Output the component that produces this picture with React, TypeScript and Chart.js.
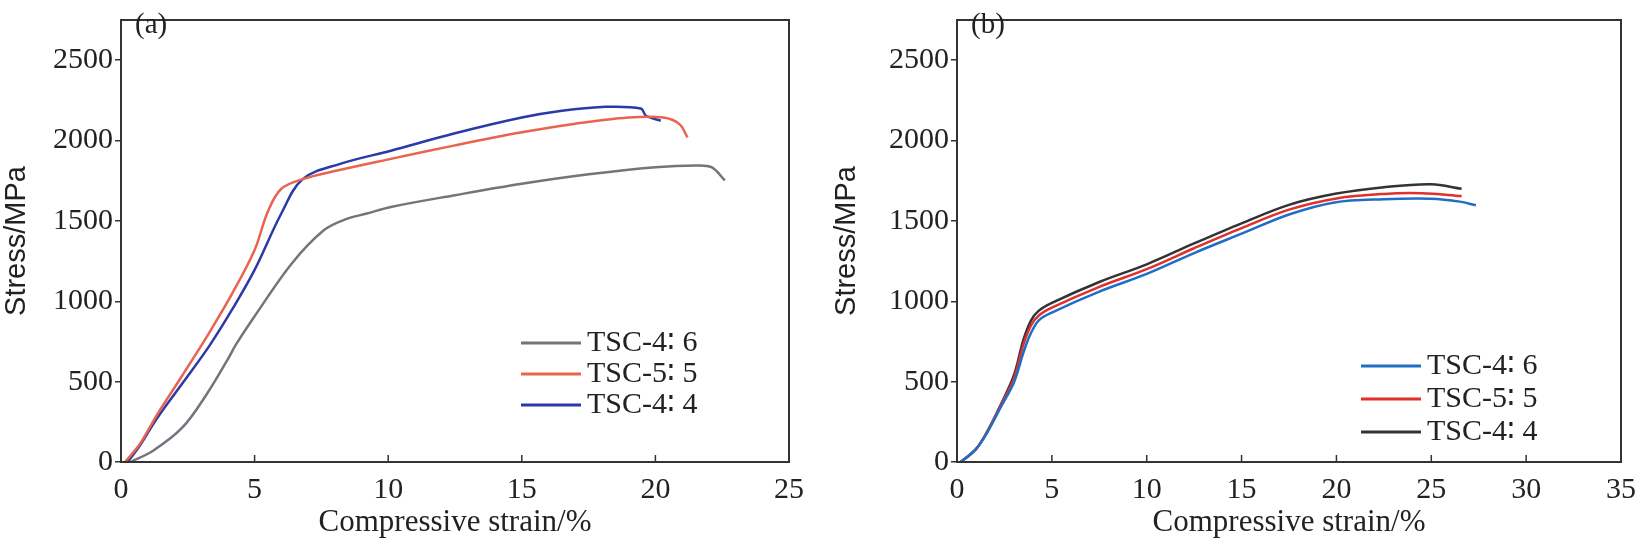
import React, { useEffect, useRef } from "react";
import { Chart, registerables } from "chart.js";
Chart.register(...registerables);

const a46x = [0.35, 1.2, 2.3, 3.2, 4.0, 4.3, 5.0, 6.4, 7.6, 8.4, 9.2, 10.1, 12.5, 15, 17.5, 20, 21.5, 22.1, 22.6];
const a46y = [0, 70, 215, 420, 640, 730, 907, 1237, 1443, 1510, 1546, 1587, 1660, 1731, 1790, 1834, 1845, 1834, 1752];
const a55x = [0.15, 0.7, 1.33, 2.3, 3.3, 4.2, 5.0, 5.5, 6.0, 6.8, 8.0, 10.1, 12.5, 15, 17, 19, 20.3, 20.9, 21.2];
const a55y = [0, 110, 289, 540, 804, 1060, 1319, 1560, 1700, 1760, 1810, 1886, 1970, 2051, 2105, 2143, 2143, 2102, 2020];
const a44x = [0.25, 0.7, 1.33, 2.3, 3.3, 4.2, 5.0, 6.0, 6.8, 8.2, 10.1, 12.5, 15, 16.5, 18, 19.45, 19.65, 20.2];
const a44y = [0, 100, 268, 490, 721, 960, 1195, 1546, 1760, 1855, 1937, 2045, 2143, 2185, 2209, 2200, 2154, 2123];

const b46x = [0.2, 1.0, 1.6, 2.3, 3.0, 3.5, 3.85, 4.3, 5.0, 7.5, 10, 12.5, 15.1, 17.5, 19.9, 22.5, 25, 26.5, 27.35];
const b46y = [0, 80, 185, 340, 495, 680, 790, 880, 930, 1060, 1170, 1300, 1425, 1540, 1615, 1635, 1638, 1620, 1597];
const b55x = [0.2, 1.0, 1.6, 2.3, 3.0, 3.5, 3.9, 4.3, 5.0, 7.5, 10, 12.5, 15, 17.5, 20, 22.5, 24.5, 26.6];
const b55y = [0, 80, 190, 350, 520, 730, 850, 910, 960, 1090, 1200, 1330, 1455, 1570, 1640, 1668, 1672, 1655];
const b44x = [0.2, 1.0, 1.6, 2.3, 3.0, 3.5, 3.9, 4.3, 5.0, 7.5, 10, 12.5, 15, 17.5, 20, 22.5, 25, 26.6];
const b44y = [0, 80, 190, 355, 540, 760, 880, 940, 990, 1120, 1230, 1360, 1485, 1600, 1670, 1710, 1728, 1700];

const yTicks = [0, 500, 1000, 1500, 2000, 2500];
const labels = ["TSC-4\u2236 6", "TSC-5\u2236 5", "TSC-4\u2236 4"];
const colorsA = ["#70767c", "#e9634f", "#2b3aa6"];
const colorsB = ["#1f6ec6", "#e0302c", "#333333"];

const pts = (xs: number[], ys: number[]) => xs.map((x, i) => ({ x, y: ys[i] }));

type Cfg = {
  series: { x: number[]; y: number[] }[];
  colors: string[];
  xmax: number;
  yAxisW: number;
  padRight: number;
  tag: string;
  legendX: number;
  legendY: number;
  legendGap: number;
};

function Panel({ cfg, left, width }: { cfg: Cfg; left: number; width: number }) {
  const ref = useRef<HTMLCanvasElement>(null);
  useEffect(() => {
    const deco = {
      id: "deco",
      afterDraw(chart: any) {
        const { ctx, chartArea: ca, scales } = chart;
        ctx.save();
        ctx.strokeStyle = "#333";
        ctx.lineWidth = 2;
        ctx.strokeRect(ca.left, ca.top, ca.right - ca.left, ca.bottom - ca.top);
        ctx.lineWidth = 1.5;
        const xs = scales.x;
        for (let v = 5; v < cfg.xmax; v += 5) {
          const px = xs.getPixelForValue(v);
          ctx.beginPath();
          ctx.moveTo(px, ca.bottom);
          ctx.lineTo(px, ca.bottom - 7);
          ctx.stroke();
        }
        ctx.fillStyle = "#222";
        ctx.font = "29px 'Liberation Serif'";
        ctx.textBaseline = "middle";
        ctx.textAlign = "left";
        ctx.fillText(cfg.tag, ca.left + 14, 25);
        ctx.font = "30px 'Liberation Serif'";
        labels.forEach((l, i) => {
          const y = cfg.legendY + i * cfg.legendGap;
          ctx.strokeStyle = cfg.colors[i];
          ctx.lineWidth = 3;
          ctx.beginPath();
          ctx.moveTo(cfg.legendX, y);
          ctx.lineTo(cfg.legendX + 60, y);
          ctx.stroke();
          ctx.fillText(l, cfg.legendX + 66, y);
        });
        ctx.restore();
      },
    };
    const chart = new Chart(ref.current!, {
      type: "line",
      data: {
        datasets: cfg.series.map((s, i) => ({
          label: labels[i],
          data: pts(s.x, s.y),
          borderColor: cfg.colors[i],
          borderWidth: 2.5,
          pointRadius: 0,
          tension: 0.35,
          fill: false,
        })),
      },
      options: {
        animation: false,
        responsive: false,
        layout: { padding: { top: 2, right: cfg.padRight, left: 0, bottom: 0 } },
        plugins: { legend: { display: false }, tooltip: { enabled: false } },
        scales: {
          x: {
            type: "linear",
            min: 0,
            max: cfg.xmax,
            border: { display: false },
            grid: { display: false },
            ticks: { stepSize: 5, color: "#222", font: { family: "Liberation Serif", size: 30 }, padding: 2, maxRotation: 0 },
            title: { display: true, text: "Compressive strain/%", color: "#222", font: { family: "Liberation Serif", size: 31 }, padding: 0 },
            afterFit: (ax: any) => { ax.height = 79; },
          },
          y: {
            min: 0,
            max: 2750,
            border: { display: false },
            grid: { drawOnChartArea: false, tickLength: 6, color: "#333", lineWidth: 1.5 },
            afterBuildTicks: (ax: any) => { ax.ticks = yTicks.map((v) => ({ value: v })); },
            ticks: {
              autoSkip: false,
              color: "#222",
              font: { family: "Liberation Serif", size: 30 },
              padding: 2,
              callback: (v: any) => String(v),
            },
            title: { display: true, text: "Stress/MPa", color: "#222", font: { family: "Liberation Sans", size: 29 }, padding: 0 },
            afterFit: (ax: any) => { ax.width = cfg.yAxisW; },
          },
        },
      },
      plugins: [deco],
    } as any);
    return () => chart.destroy();
  }, []);
  return (
    <canvas ref={ref} width={width} height={541} style={{ position: "absolute", left, top: 0, width, height: 541 }} />
  );
}

const cfgA: Cfg = {
  series: [{ x: a46x, y: a46y }, { x: a55x, y: a55y }, { x: a44x, y: a44y }],
  colors: colorsA, xmax: 25, yAxisW: 121, padRight: 31, tag: "(a)",
  legendX: 521, legendY: 343, legendGap: 31,
};
const cfgB: Cfg = {
  series: [{ x: b46x, y: b46y }, { x: b55x, y: b55y }, { x: b44x, y: b44y }],
  colors: colorsB, xmax: 35, yAxisW: 127, padRight: 16, tag: "(b)",
  legendX: 531, legendY: 366, legendGap: 33,
};

export default function App() {
  return (
    <div style={{ position: "absolute", left: 0, top: 0, width: 1638, height: 541, background: "#fff" }}>
      <Panel cfg={cfgA} left={0} width={820} />
      <Panel cfg={cfgB} left={830} width={808} />
    </div>
  );
}
